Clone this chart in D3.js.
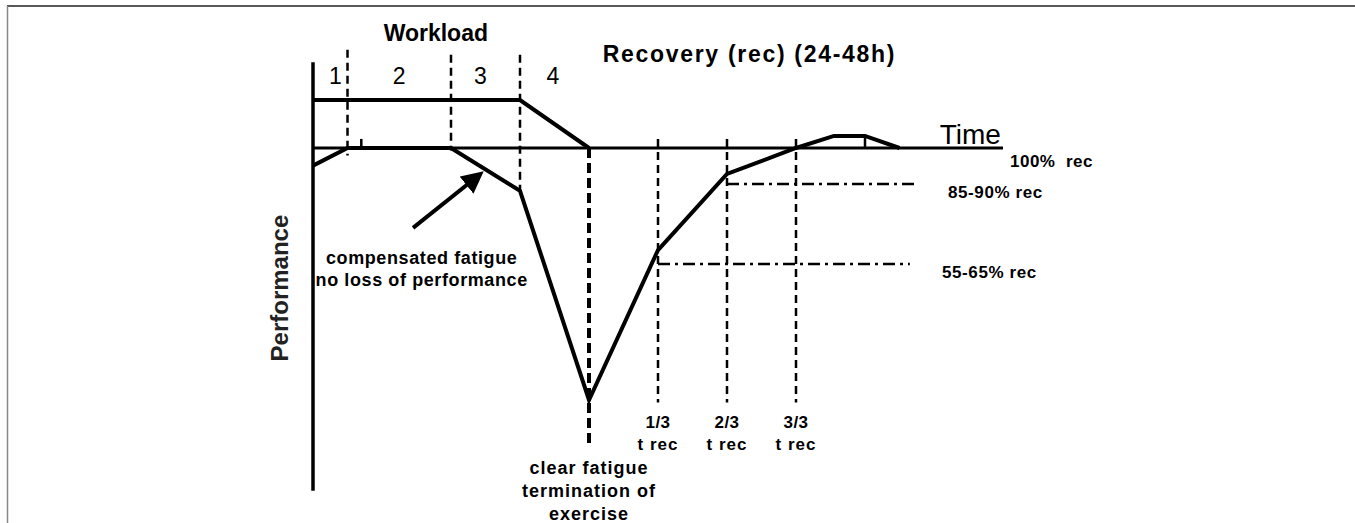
<!DOCTYPE html>
<html>
<head>
<meta charset="utf-8">
<script src="https://cdn.jsdelivr.net/npm/d3@7"></script>
<style>
  body { margin: 0; background: #fff; }
  svg { display: block; font-family: "Liberation Sans", Arial, sans-serif; }
  text { white-space: pre; }
</style>
</head>
<body>
<svg width="1355" height="523"></svg>
<script>
// time units along x, performance in % (100 = baseline)
const perfT = [0, 1, 4, 6, 8, 10, 12, 14, 15.1, 16, 17];
const perfV = [93, 100, 100, 83, 0, 59.5, 89.7, 100, 104.8, 104.8, 100];

const workT = [0, 6, 8];
const workV = [119, 119, 100];

// phase borders of the workload (dashed): [t, top %, bottom %]
const phaseLines = [[1, 139, 97], [4, 137, 99], [6, 137, 83]];
const phaseLabels = ["1", "2", "3", "4"];
const phaseLabelT = [0.65, 2.5, 4.85, 6.95];

const recT = [10, 12, 14];
const recLabels = ["1/3", "2/3", "3/3"];

// dash-dot recovery levels: [level %, start t, end t, label]
const recLevels = [[85.7, 12, 17.5, "85-90% rec", 948], [54, 10, 17.3, "55-65% rec", 942]];

// Set up scales
const x = d3.scaleLinear().domain([0, 20]).range([313, 1003]);
const y = d3.scaleLinear().domain([0, 100]).range([400, 148]);

const svg = d3.select("svg");

// frame
svg.append("line").attr("x1", 7).attr("x2", 1355).attr("y1", 6).attr("y2", 6)
    .attr("stroke", "#222").attr("stroke-width", 1.5);
svg.append("line").attr("x1", 7.5).attr("x2", 7.5).attr("y1", 6).attr("y2", 523)
    .attr("stroke", "#888").attr("stroke-width", 1.5);

const line = d3.line().x(d => x(d[0])).y(d => y(d[1]));

// axes
svg.append("path").attr("d", line([[0, 134], [0, -36]]))
    .attr("stroke", "#000").attr("stroke-width", 3.5).attr("fill", "none");
svg.append("path").attr("d", line([[0, 100], [20, 100]]))
    .attr("stroke", "#000").attr("stroke-width", 3).attr("fill", "none");

// phase dashed lines
phaseLines.forEach(p => {
    svg.append("path").attr("d", line([[p[0], p[1]], [p[0], p[2]]]))
        .attr("stroke", "#000").attr("stroke-width", 2.5).attr("stroke-dasharray", "8,5").attr("fill", "none");
});
// termination of exercise
svg.append("path").attr("d", line([[8, 100], [8, -18]]))
    .attr("stroke", "#000").attr("stroke-width", 4).attr("stroke-dasharray", "10,5").attr("fill", "none");
// recovery thirds
recT.forEach(t => {
    svg.append("path").attr("d", line([[t, 103.6], [t, -1]]))
        .attr("stroke", "#000").attr("stroke-width", 2.5).attr("stroke-dasharray", "8,5").attr("fill", "none");
});
// dash-dot levels
recLevels.forEach(r => {
    svg.append("path").attr("d", line([[r[1], r[0]], [r[2], r[0]]]))
        .attr("stroke", "#000").attr("stroke-width", 2.5).attr("stroke-dasharray", "12,5,3,5").attr("fill", "none");
});

// workload line
svg.append("path").attr("d", line(workT.map((t, i) => [t, workV[i]])))
    .attr("stroke", "#000").attr("stroke-width", 4).attr("fill", "none");

// performance curve
svg.append("path").attr("d", line(perfT.map((t, i) => [t, perfV[i]])))
    .attr("stroke", "#000").attr("stroke-width", 4).attr("fill", "none").attr("stroke-linejoin", "miter");
// small ticks
svg.append("path").attr("d", line([[1.4, 103.6], [1.4, 100]]))
    .attr("stroke", "#000").attr("stroke-width", 2.5);
svg.append("path").attr("d", line([[16, 104.8], [16, 100]]))
    .attr("stroke", "#000").attr("stroke-width", 2.5);

// arrow
svg.append("defs").append("marker")
    .attr("id", "head").attr("viewBox", "0 0 10 10").attr("refX", 5).attr("refY", 5)
    .attr("markerWidth", 5.5).attr("markerHeight", 5.5).attr("orient", "auto")
  .append("path").attr("d", "M0,0L10,5L0,10z").attr("fill", "#000");
svg.append("path").attr("d", line([[2.9, 68.3], [4.7, 88]]))
    .attr("stroke", "#000").attr("stroke-width", 4).attr("marker-end", "url(#head)");

// texts
function label(t, v, txt, size, weight, spacing) {
    return svg.append("text").attr("x", x(t)).attr("y", y(v))
        .attr("text-anchor", "middle").attr("font-size", size)
        .attr("font-weight", weight).attr("letter-spacing", spacing || 0).text(txt);
}

label(3.56, 142.5, "Workload", 23, "bold");
phaseLabels.forEach((s, i) => label(phaseLabelT[i], 125.4, s, 23, "normal"));
label(12.65, 134, "Recovery (rec) (24-48h)", 23, "bold", 1.7);
label(19.05, 101.5, "Time", 28, "normal");
svg.append("text").attr("x", 1010).attr("y", y(92.5)).attr("font-size", 17)
    .attr("font-weight", "bold").attr("letter-spacing", 0.5).text("100%  rec");
recLevels.forEach(r => {
    svg.append("text").attr("x", r[4]).attr("y", y(r[0] - 5.5)).attr("font-size", 17)
        .attr("font-weight", "bold").attr("letter-spacing", 0.6).text(r[3]);
});
label(3.15, 54, "compensated fatigue", 18, "bold", 0.6);
label(3.15, 45.3, "no loss of performance", 18, "bold", 0.6);
recT.forEach((t, i) => {
    label(t, -11, recLabels[i], 17, "bold", 0.5);
    label(t, -20, "t rec", 17, "bold", 1);
});
label(8, -29.5, "clear fatigue", 18, "bold", 1);
label(8, -38.5, "termination of", 18, "bold", 1);
label(8, -47.5, "exercise", 18, "bold", 1);

svg.append("text").attr("transform", "translate(" + 288 + "," + y(44.4) + ") rotate(-90)")
    .attr("text-anchor", "middle").attr("font-size", 24).attr("font-weight", "bold")
    .attr("fill", "#222").text("Performance");
</script>
</body>
</html>
